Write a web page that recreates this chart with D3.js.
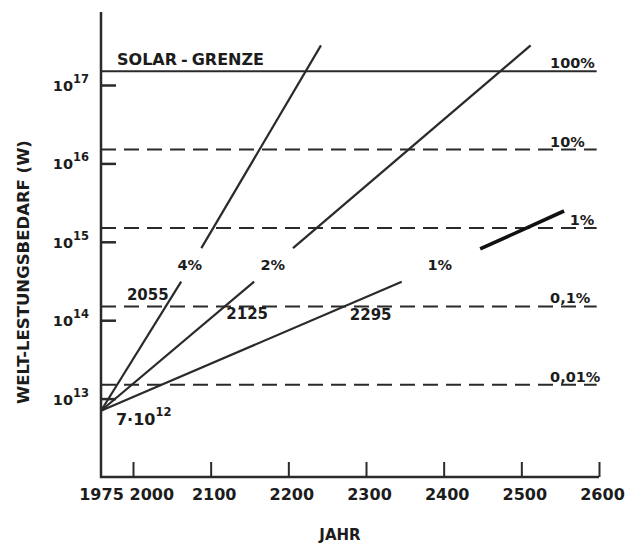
<!DOCTYPE html>
<html><head><meta charset="utf-8">
<script src="https://cdn.jsdelivr.net/npm/d3@7"></script>
<style>
body{margin:0;background:#fff}
svg{display:block}
text{font-family:"DejaVu Sans",sans-serif;font-weight:bold;fill:#1c1c1c}
</style></head><body>
<svg id="c" width="628" height="544"></svg>
<script>
// ---- data ----
const xTickYears = [1975, 2000, 2100, 2200, 2300, 2400, 2500, 2600];
const yTickPowers = [13, 14, 15, 16, 17];
const refLevels = [1.5e17, 1.5e16, 1.5e15, 1.5e14, 1.5e13];
const refLabels = ["100%", "10%", "1%", "0,1%", "0,01%"];
const refDashed = [false, true, true, true, true];
const refRange = [1975, 2597];
const growthNames = ["4%", "2%", "1%"];
const growthLower = [
  [[1975, 7e12], [2062, 3.1e14]],
  [[1975, 7e12], [2156, 3.1e14]],
  [[1975, 7e12], [2346, 3.1e14]]
];
const growthUpper = [
  [[2088, 8.3e14], [2242, 3.2e17]],
  [[2206, 8.3e14], [2512, 3.2e17]],
  [[2447, 8.1e14], [2555, 2.47e15]]
];
const growthLabelAt = [[2073, 4.4e14], [2180, 4.4e14], [2395, 4.4e14]];
const crossLabels = ["2055", "2125", "2295"];
const crossLabelAt = [[2019, 1.8e14], [2147, 1.03e14], [2306, 1.0e14]];
const startLabelAt = [1986.7, 4.6e12];
const solarLabel = "SOLAR-GRENZE";
const yTitle = "WELT-LESTUNGSBEDARF (W)";
const xTitle = "JAHR";

// ---- scales ----
const svg = d3.select("#c");
const x = d3.scaleLinear().domain([1975, 2000, 2600]).range([101, 133, 599]);
const y = d3.scaleLog().domain([1e12, 1e17]).range([477, 85]);
const ink = "#2a2a2a";
const line = d3.line().x(d => x(d[0])).y(d => y(d[1]));

// reference lines
refLevels.forEach((v, i) => {
  svg.append("path")
    .attr("d", line([[refRange[0], v], [refRange[1], v]]))
    .attr("stroke", ink).attr("stroke-width", 2).attr("fill", "none")
    .attr("stroke-dasharray", refDashed[i] ? "15,8" : null);
  const t = svg.append("text")
    .attr("y", y(v) - 3)
    .attr("font-size", 14.5)
    .text(refLabels[i]);
  if (refLabels[i] === "1%") t.attr("x", x(2594)).attr("text-anchor", "end");
  else t.attr("x", x(2537)).attr("text-anchor", "start");
});

// growth lines
growthLower.forEach(seg => {
  svg.append("path").attr("d", line(seg))
    .attr("stroke", ink).attr("stroke-width", 2.2).attr("fill", "none");
});
growthUpper.forEach((seg, i) => {
  svg.append("path").attr("d", line(seg))
    .attr("stroke", i === 2 ? "#111" : ink).attr("stroke-width", i === 2 ? 3.6 : 2.2).attr("fill", "none");
});
growthNames.forEach((n, i) => {
  svg.append("text").attr("x", x(growthLabelAt[i][0])).attr("y", y(growthLabelAt[i][1]))
    .attr("text-anchor", "middle").attr("font-size", 14.5).text(n);
});
crossLabels.forEach((n, i) => {
  svg.append("text").attr("x", x(crossLabelAt[i][0])).attr("y", y(crossLabelAt[i][1]))
    .attr("text-anchor", "middle").attr("font-size", 15)
    .attr("font-weight", i === 0 ? "normal" : "bold").text(n);
});

// start label 7·10^12
const st = svg.append("text").attr("x", x(startLabelAt[0])).attr("y", y(startLabelAt[1])).attr("font-size", 16);
st.append("tspan").text("7·10");
st.append("tspan").attr("dy", -9).attr("font-size", 11.5).text("12");

// solar label
const sl = svg.append("text").attr("x", 117).attr("y", 65).attr("font-size", 16);
sl.append("tspan").text(solarLabel.split("-")[0]);
sl.append("tspan").attr("dx", 4).text("-");
sl.append("tspan").attr("dx", 4).text(solarLabel.split("-")[1]);

// axes
const xAxis = d3.axisBottom(x).tickValues(xTickYears).tickSize(-15).tickPadding(12).tickFormat(d3.format("d"));
const gx = svg.append("g").attr("transform", "translate(0,477)").call(xAxis);
gx.select(".domain").remove();
gx.selectAll(".tick line").attr("stroke", ink).attr("stroke-width", 2)
  .filter(d => d === 1975).remove();
gx.selectAll(".tick text").attr("font-size", 16).attr("fill", "#1c1c1c")
  .attr("font-family", "DejaVu Sans").attr("font-weight", "bold")
  .attr("text-anchor", d => d === 2000 ? "start" : "middle")
  .attr("dx", d => d === 2000 ? -4 : (d === 1975 ? 0 : 3));

const yAxis = d3.axisLeft(y).tickValues(yTickPowers.map(p => Math.pow(10, p))).tickSize(-15).tickFormat("");
const gy = svg.append("g").attr("transform", "translate(101,0)").call(yAxis);
gy.select(".domain").remove();
gy.selectAll(".tick line").attr("stroke", ink).attr("stroke-width", 2.5);

yTickPowers.forEach(p => {
  const t = svg.append("text").attr("x", 89).attr("y", y(Math.pow(10, p)) + 6)
    .attr("text-anchor", "end").attr("font-size", 14.5);
  t.append("tspan").text("10");
  t.append("tspan").attr("dy", -8).attr("font-size", 11.5).text(String(p));
});

// axis lines
svg.append("line").attr("x1", 101).attr("x2", 101).attr("y1", 12).attr("y2", 478)
  .attr("stroke", ink).attr("stroke-width", 2.5);
svg.append("line").attr("x1", 100).attr("x2", x(2600)).attr("y1", 477).attr("y2", 477)
  .attr("stroke", ink).attr("stroke-width", 2.5);

// titles
svg.append("text").attr("transform", "translate(29,272) rotate(-90)")
  .attr("text-anchor", "middle").attr("font-size", 16.5).text(yTitle);
svg.append("text").attr("x", 340).attr("y", 540).attr("text-anchor", "middle")
  .attr("font-size", 15).text(xTitle);
</script>
</body></html>
